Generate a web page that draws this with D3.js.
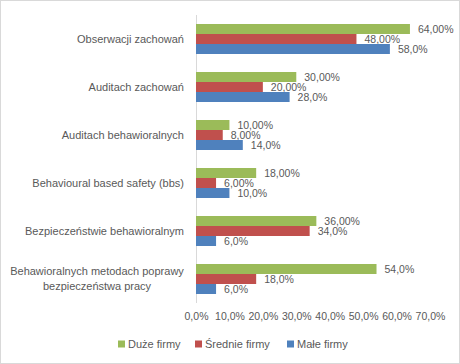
<!DOCTYPE html>
<html>
<head>
<meta charset="utf-8">
<script src="https://cdn.jsdelivr.net/npm/d3@7"></script>
<style>
  body { margin: 0; background: #fff; }
  svg text { font-family: "Liberation Sans", Arial, sans-serif; fill: #595959; }
</style>
</head>
<body>
<div id="chart"></div>
<script>
const categories = [
  'Obserwacji zachowań',
  'Auditach zachowań',
  'Auditach behawioralnych',
  'Behavioural based safety (bbs)',
  'Bezpieczeństwie behawioralnym',
  'Behawioralnych metodach poprawy|bezpieczeństwa pracy'
];
const seriesNames = ['Duże firmy', 'Średnie firmy', 'Małe firmy'];
const duze = [64, 30, 10, 18, 36, 54];
const srednie = [48, 20, 8, 6, 34, 18];
const male = [58, 28, 14, 10, 6, 6];
const duzeLabels = ['64,00%', '30,00%', '10,00%', '18,00%', '36,00%', '54,0%'];
const srednieLabels = ['48,00%', '20,00%', '8,00%', '6,00%', '34,0%', '18,0%'];
const maleLabels = ['58,0%', '28,0%', '14,0%', '10,0%', '6,0%', '6,0%'];
const xTicks = [0, 10, 20, 30, 40, 50, 60, 70];

const colors = ['#9bbb59', '#c0504d', '#4f81bd'];
const width = 460, height = 364;
const margin = { top: 15, right: 30, bottom: 61, left: 196 };
const innerW = 234, innerH = height - margin.top - margin.bottom;

const svg = d3.select('#chart')
  .append('svg')
  .attr('width', width)
  .attr('height', height);

svg.append('rect')
  .attr('x', 0.5).attr('y', 0.5)
  .attr('width', width - 1).attr('height', height - 1)
  .attr('fill', '#fff')
  .attr('stroke', '#d9d9d9');

const g = svg.append('g')
  .attr('transform', `translate(${margin.left},${margin.top})`);

const x = d3.scaleLinear().domain([0, 70]).range([0, innerW]);
const y = d3.scaleBand().domain(categories).range([0, innerH]).paddingInner(0.375).paddingOuter(0.1875);
const ySub = d3.scaleBand().domain(seriesNames).range([0, y.bandwidth()]);

// x axis tick labels
const xAxis = g.append('g')
  .attr('transform', `translate(0,${innerH})`)
  .call(d3.axisBottom(x).tickValues(xTicks).tickSize(0).tickPadding(10)
    .tickFormat(d => d.toFixed(1).replace('.', ',') + '%'));
xAxis.select('.domain').remove();
xAxis.selectAll('text').style('font-size', '10.5px').style('font-family', null).attr('fill', '#595959');

// y axis line
g.append('line')
  .attr('x1', 0.5).attr('x2', 0.5)
  .attr('y1', 0).attr('y2', innerH)
  .attr('stroke', '#d9d9d9');

// category labels
categories.forEach(c => {
  const lines = c.split('|');
  const cy = y(c) + y.bandwidth() / 2;
  const lx = lines.length > 1 ? -99 : -12;
  const t = g.append('text')
    .attr('font-size', '11px')
    .attr('text-anchor', lines.length > 1 ? 'middle' : 'end')
    .attr('x', lx)
    .attr('y', cy - (lines.length - 1) * 7.5);
  lines.forEach((l, i) => {
    t.append('tspan')
      .attr('x', lx)
      .attr('dy', i === 0 ? '0.35em' : '15')
      .text(l);
  });
});

const series = [
  { name: seriesNames[0], values: duze, labels: duzeLabels, color: colors[0] },
  { name: seriesNames[1], values: srednie, labels: srednieLabels, color: colors[1] },
  { name: seriesNames[2], values: male, labels: maleLabels, color: colors[2] }
];

series.forEach(s => {
  const sg = g.append('g');
  sg.selectAll('rect')
    .data(categories)
    .enter()
    .append('rect')
    .attr('x', 0)
    .attr('y', (d) => y(d) + ySub(s.name))
    .attr('width', (d, i) => x(s.values[i]))
    .attr('height', ySub.bandwidth())
    .attr('fill', s.color);
  sg.selectAll('text')
    .data(categories)
    .enter()
    .append('text')
    .attr('x', (d, i) => x(s.values[i]) + 8)
    .attr('y', (d) => y(d) + ySub(s.name) + ySub.bandwidth() / 2)
    .attr('dy', '0.35em')
    .attr('font-size', '10.5px')
    .text((d, i) => s.labels[i]);
});

// legend
const legendX = [118, 195, 287];
const legend = svg.append('g').attr('transform', 'translate(0,344)');
series.forEach((s, i) => {
  legend.append('rect')
    .attr('x', legendX[i]).attr('y', -3.5)
    .attr('width', 7).attr('height', 7)
    .attr('fill', s.color);
  legend.append('text')
    .attr('x', legendX[i] + 10).attr('y', 0)
    .attr('dy', '0.35em')
    .attr('font-size', '11px')
    .text(s.name);
});
</script>
</body>
</html>
